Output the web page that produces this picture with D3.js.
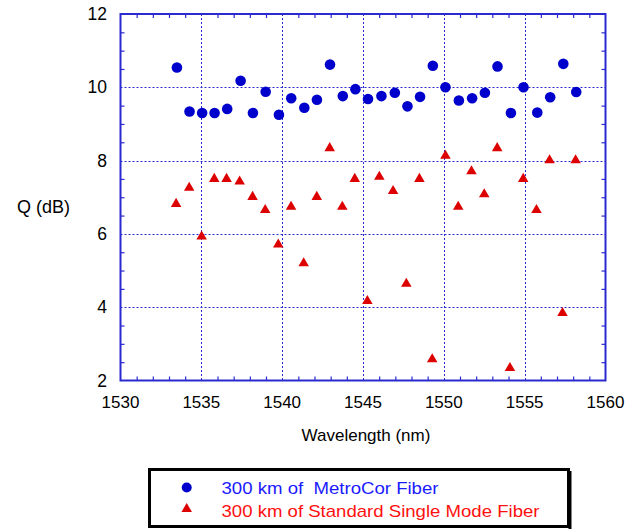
<!DOCTYPE html>
<html>
<head>
<meta charset="utf-8">
<script src="https://cdn.jsdelivr.net/npm/d3@7"></script>
<style>
  body { margin: 0; background: #fff; }
  text { font-family: "Liberation Sans", Arial, sans-serif; }
</style>
</head>
<body>
<div id="chart"></div>
<script>
// ---- data ----
var metroWl = [1533.49, 1534.27, 1535.05, 1535.82, 1536.60, 1537.43, 1538.19, 1538.98,
               1539.80, 1540.56, 1541.37, 1542.15, 1542.96, 1543.75, 1544.53, 1545.31,
               1546.14, 1546.97, 1547.75, 1548.53, 1549.32, 1550.10, 1550.93, 1551.75,
               1552.54, 1553.32, 1554.15, 1554.93, 1555.78, 1556.58, 1557.39, 1558.19];
var metroQ  = [10.54, 9.34, 9.30, 9.30, 9.41, 10.18, 9.30, 9.88,
               9.25, 9.70, 9.44, 9.66, 10.62, 9.76, 9.95, 9.68,
               9.76, 9.85, 9.48, 9.74, 10.59, 10.00, 9.64, 9.70,
               9.85, 10.57, 9.30, 10.00, 9.31, 9.73, 10.64, 9.87];

var ssmfWl = [1533.44, 1534.25, 1535.02, 1535.80, 1536.56, 1537.37, 1538.17, 1538.95,
              1539.76, 1540.55, 1541.33, 1542.14, 1542.94, 1543.72, 1544.49, 1545.27,
              1546.01, 1546.86, 1547.68, 1548.49, 1549.28, 1550.10, 1550.89, 1551.71,
              1552.50, 1553.30, 1554.09, 1554.91, 1555.73, 1556.54, 1557.34, 1558.15];
var ssmfQ  = [6.82, 7.26, 5.93, 7.50, 7.50, 7.43, 7.01, 6.65,
              5.71, 6.74, 5.20, 7.01, 8.34, 6.74, 7.50, 4.17,
              7.56, 7.17, 4.64, 7.50, 2.58, 8.13, 6.74, 7.71,
              7.08, 8.34, 2.34, 7.50, 6.65, 8.01, 3.84, 8.01];

var xTicks = [1530, 1535, 1540, 1545, 1550, 1555, 1560];
var yTicks = [2, 4, 6, 8, 10, 12];
var legendLabels = ["300 km of  MetroCor Fiber", "300 km of Standard Single Mode Fiber"];

//=====================================================
var W = 638, H = 529;
var pLeft = 120.5, pRight = 605.5, pTop = 14, pBottom = 380.5;

var blue = "#0000cc", red = "#dd0000", axisBlue = "#2a2ad0";

var svg = d3.select("#chart").append("svg")
  .attr("width", W)
  .attr("height", H);

var x = d3.scaleLinear().domain([1530, 1560]).range([pLeft, pRight]);
var y = d3.scaleLinear().domain([2, 12]).range([pBottom, pTop]);

function px(v) { return Math.round(v) + 0.5; }

// grid
var grid = svg.append("g");
grid.selectAll(".vg").data(xTicks.slice(1, -1)).enter().append("line")
  .attr("x1", function(d) { return px(x(d)); }).attr("x2", function(d) { return px(x(d)); })
  .attr("y1", pTop).attr("y2", pBottom)
  .attr("stroke", axisBlue).attr("stroke-width", 1).attr("stroke-dasharray", "2,2");
grid.selectAll(".hg").data(yTicks.slice(1, -1)).enter().append("line")
  .attr("y1", function(d) { return px(y(d)); }).attr("y2", function(d) { return px(y(d)); })
  .attr("x1", pLeft).attr("x2", pRight)
  .attr("stroke", axisBlue).attr("stroke-width", 1).attr("stroke-dasharray", "2,2");

// minor ticks pointing in, on all four sides
var xMinor = d3.range(1531, 1560, 1).filter(function(d) { return d % 5 != 0; });
var yMinor = d3.range(2.5, 12, 0.5).filter(function(d) { return d % 2 != 0; });
var tl = 4;

var axB = svg.append("g").attr("transform", "translate(0," + pBottom + ")")
  .call(d3.axisTop(x).tickValues(xMinor).tickSize(tl).tickFormat(""));
var axT = svg.append("g").attr("transform", "translate(0," + pTop + ")")
  .call(d3.axisBottom(x).tickValues(xMinor).tickSize(tl).tickFormat(""));
var axL = svg.append("g").attr("transform", "translate(" + pLeft + ",0)")
  .call(d3.axisRight(y).tickValues(yMinor).tickSize(tl).tickFormat(""));
var axR = svg.append("g").attr("transform", "translate(" + pRight + ",0)")
  .call(d3.axisLeft(y).tickValues(yMinor).tickSize(tl).tickFormat(""));
[axB, axT, axL, axR].forEach(function(a) {
  a.select(".domain").remove();
  a.selectAll("line").attr("stroke", axisBlue).attr("stroke-width", 1.2);
});

// frame
svg.append("rect")
  .attr("x", pLeft).attr("y", pTop)
  .attr("width", pRight - pLeft).attr("height", pBottom - pTop)
  .attr("fill", "none").attr("stroke", axisBlue).attr("stroke-width", 2);

// tick labels
svg.append("g").selectAll("text").data(xTicks).enter().append("text")
  .attr("x", function(d) { return x(d); })
  .attr("y", 408)
  .attr("text-anchor", "middle")
  .attr("font-size", 17)
  .text(function(d) { return d; });
svg.append("g").selectAll("text").data(yTicks).enter().append("text")
  .attr("x", 107)
  .attr("y", function(d) { return y(d) + 6; })
  .attr("text-anchor", "end")
  .attr("font-size", 17.5)
  .text(function(d) { return d; });

// axis titles
svg.append("text").attr("x", 366).attr("y", 441)
  .attr("text-anchor", "middle").attr("font-size", 17)
  .text("Wavelength (nm)");
svg.append("text").attr("x", 17).attr("y", 213)
  .attr("font-size", 18)
  .text("Q (dB)");

// points
var tri = d3.symbol().type(d3.symbolTriangle).size(48);

svg.append("g").selectAll("path").data(ssmfWl).enter().append("path")
  .attr("d", tri)
  .attr("transform", function(d, i) { return "translate(" + x(d) + "," + y(ssmfQ[i]) + ")"; })
  .attr("fill", red);

svg.append("g").selectAll("circle").data(metroWl).enter().append("circle")
  .attr("cx", function(d) { return x(d); })
  .attr("cy", function(d, i) { return y(metroQ[i]); })
  .attr("r", 5.3)
  .attr("fill", blue);

// legend
var lg = svg.append("g");
lg.append("rect").attr("x", 149.5).attr("y", 469.5).attr("width", 419).attr("height", 57)
  .attr("fill", "#fff").attr("stroke", "#000").attr("stroke-width", 3);
lg.append("line").attr("x1", 570).attr("x2", 570).attr("y1", 471).attr("y2", 529)
  .attr("stroke", "#000").attr("stroke-width", 3);
lg.append("circle").attr("cx", 186.7).attr("cy", 487.5).attr("r", 5).attr("fill", blue);
lg.append("path").attr("d", tri).attr("transform", "translate(186.7,509)").attr("fill", red);
lg.append("text").attr("x", 221.5).attr("y", 493.5).attr("font-size", 17)
  .attr("fill", "#1a1aff").style("white-space", "pre")
  .attr("textLength", 217).attr("lengthAdjust", "spacingAndGlyphs")
  .text(legendLabels[0]);
lg.append("text").attr("x", 221.5).attr("y", 516.5).attr("font-size", 17)
  .attr("fill", "#ff1010")
  .attr("textLength", 318).attr("lengthAdjust", "spacingAndGlyphs")
  .text(legendLabels[1]);
</script>
</body>
</html>
